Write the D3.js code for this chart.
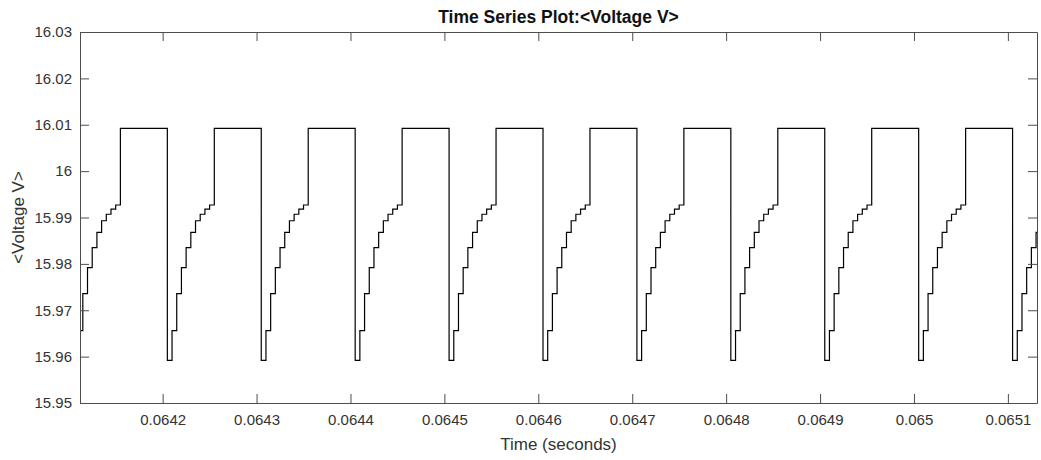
<!DOCTYPE html>
<html>
<head>
<meta charset="utf-8">
<script src="https://cdn.jsdelivr.net/npm/d3@7"></script>
<style>
  body { margin: 0; background: #fff; }
  text { font-family: "Liberation Sans", Arial, sans-serif; }
</style>
</head>
<body>
<div id="chart"></div>
<script>
(function() {
    // Sampled signal (zero-order hold): first sample time and sample step, seconds
    var startTime = 0.064105;
    var sampleStep = 0.000005;

    // Voltage samples, one switching period per row
    var voltage = [
        15.9592, 15.9656, 15.9736, 15.9792, 15.9835, 15.9868, 15.9893, 15.9907, 15.9918, 15.9927, 16.0092, 16.0092, 16.0092, 16.0092, 16.0092, 16.0092, 16.0092, 16.0092, 16.0092, 16.0092,
        15.9592, 15.9656, 15.9736, 15.9792, 15.9835, 15.9868, 15.9893, 15.9907, 15.9918, 15.9927, 16.0092, 16.0092, 16.0092, 16.0092, 16.0092, 16.0092, 16.0092, 16.0092, 16.0092, 16.0092,
        15.9592, 15.9656, 15.9736, 15.9792, 15.9835, 15.9868, 15.9893, 15.9907, 15.9918, 15.9927, 16.0092, 16.0092, 16.0092, 16.0092, 16.0092, 16.0092, 16.0092, 16.0092, 16.0092, 16.0092,
        15.9592, 15.9656, 15.9736, 15.9792, 15.9835, 15.9868, 15.9893, 15.9907, 15.9918, 15.9927, 16.0092, 16.0092, 16.0092, 16.0092, 16.0092, 16.0092, 16.0092, 16.0092, 16.0092, 16.0092,
        15.9592, 15.9656, 15.9736, 15.9792, 15.9835, 15.9868, 15.9893, 15.9907, 15.9918, 15.9927, 16.0092, 16.0092, 16.0092, 16.0092, 16.0092, 16.0092, 16.0092, 16.0092, 16.0092, 16.0092,
        15.9592, 15.9656, 15.9736, 15.9792, 15.9835, 15.9868, 15.9893, 15.9907, 15.9918, 15.9927, 16.0092, 16.0092, 16.0092, 16.0092, 16.0092, 16.0092, 16.0092, 16.0092, 16.0092, 16.0092,
        15.9592, 15.9656, 15.9736, 15.9792, 15.9835, 15.9868, 15.9893, 15.9907, 15.9918, 15.9927, 16.0092, 16.0092, 16.0092, 16.0092, 16.0092, 16.0092, 16.0092, 16.0092, 16.0092, 16.0092,
        15.9592, 15.9656, 15.9736, 15.9792, 15.9835, 15.9868, 15.9893, 15.9907, 15.9918, 15.9927, 16.0092, 16.0092, 16.0092, 16.0092, 16.0092, 16.0092, 16.0092, 16.0092, 16.0092, 16.0092,
        15.9592, 15.9656, 15.9736, 15.9792, 15.9835, 15.9868, 15.9893, 15.9907, 15.9918, 15.9927, 16.0092, 16.0092, 16.0092, 16.0092, 16.0092, 16.0092, 16.0092, 16.0092, 16.0092, 16.0092,
        15.9592, 15.9656, 15.9736, 15.9792, 15.9835, 15.9868, 15.9893, 15.9907, 15.9918, 15.9927, 16.0092, 16.0092, 16.0092, 16.0092, 16.0092, 16.0092, 16.0092, 16.0092, 16.0092, 16.0092,
        15.9592, 15.9656, 15.9736, 15.9792, 15.9835, 15.9868, 15.9893
    ];

    // Axis ranges and ticks
    var timeRange = [0.064112, 0.065131];
    var voltRange = [15.95, 16.03];
    var timeTicks = [0.0642, 0.0643, 0.0644, 0.0645, 0.0646, 0.0647, 0.0648, 0.0649, 0.065, 0.0651];
    var voltTicks = [15.95, 15.96, 15.97, 15.98, 15.99, 16, 16.01, 16.02, 16.03];

    var points = voltage.map(function(v, i) {
        return { t: startTime + i * sampleStep, v: v };
    });

    // SVG dimensions
    var width = 1041;
    var height = 460;
    var margin = { top: 32, right: 4, bottom: 57, left: 80 };
    var plotW = width - margin.left - margin.right;
    var plotH = height - margin.top - margin.bottom;

    var svg = d3.select('#chart')
        .append('svg')
        .attr('width', width)
        .attr('height', height);

    var x = d3.scaleLinear().domain(timeRange).range([0, plotW]);
    var y = d3.scaleLinear().domain(voltRange).range([plotH, 0]);

    var g = svg.append('g')
        .attr('transform', `translate(${margin.left}, ${margin.top})`);

    svg.append('defs').append('clipPath')
        .attr('id', 'plot-clip')
        .append('rect')
        .attr('width', plotW)
        .attr('height', plotH);

    // Waveform
    var line = d3.line()
        .x(d => x(d.t))
        .y(d => y(d.v))
        .curve(d3.curveStepAfter);

    g.append('path')
        .datum(points)
        .attr('clip-path', 'url(#plot-clip)')
        .attr('fill', 'none')
        .attr('stroke', '#000')
        .attr('stroke-width', 1.2)
        .attr('d', line);

    var fmt = d => String(+d.toFixed(5));
    var tick = 9;

    // Box with inward ticks on all four sides
    var axes = [
        g.append('g').attr('transform', `translate(0, ${plotH})`)
            .call(d3.axisBottom(x).tickValues(timeTicks).tickFormat(fmt)
                .tickSizeInner(-tick).tickSizeOuter(0).tickPadding(11)),
        g.append('g')
            .call(d3.axisTop(x).tickValues(timeTicks).tickFormat('')
                .tickSizeInner(-tick).tickSizeOuter(0)),
        g.append('g')
            .call(d3.axisLeft(y).tickValues(voltTicks).tickFormat(fmt)
                .tickSizeInner(-tick).tickSizeOuter(0).tickPadding(8)),
        g.append('g').attr('transform', `translate(${plotW}, 0)`)
            .call(d3.axisRight(y).tickValues(voltTicks).tickFormat('')
                .tickSizeInner(-tick).tickSizeOuter(0))
    ];

    axes.forEach(function(a) {
        a.select('.domain').attr('stroke', '#4d4d4d');
        a.selectAll('.tick line').attr('stroke', '#4d4d4d');
        a.selectAll('.tick text')
            .style('font-size', '15px')
            .style('font-family', '"Liberation Sans", Arial, sans-serif')
            .attr('fill', '#333');
    });

    // Title
    svg.append('text')
        .attr('x', margin.left + plotW / 2)
        .attr('y', 23)
        .style('text-anchor', 'middle')
        .style('font-size', '17.5px')
        .style('font-weight', 'bold')
        .attr('fill', '#111')
        .text('Time Series Plot:<Voltage V>');

    // X-axis label
    svg.append('text')
        .attr('x', margin.left + plotW / 2)
        .attr('y', 450)
        .style('text-anchor', 'middle')
        .style('font-size', '17px')
        .attr('fill', '#333')
        .text('Time (seconds)');

    // Y-axis label
    svg.append('text')
        .attr('transform', `translate(24, ${margin.top + plotH / 2}) rotate(-90)`)
        .style('text-anchor', 'middle')
        .style('font-size', '17px')
        .attr('fill', '#333')
        .text('<Voltage V>');
})();
</script>
</body>
</html>
